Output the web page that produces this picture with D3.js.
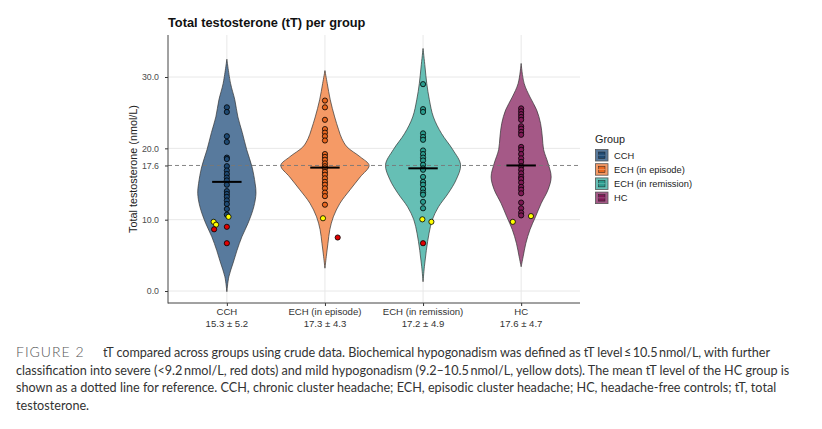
<!DOCTYPE html>
<html>
<head>
<meta charset="utf-8">
<script src="https://cdn.jsdelivr.net/npm/d3@7/dist/d3.min.js"></script>
<style>
  html, body { margin: 0; padding: 0; background: #fff; }
  svg { display: block; }
</style>
</head>
<body>
<svg id="chart" width="822" height="429"></svg>
<script>
// ---------------- DATA ----------------
const groups = ["CCH", "ECH (in episode)", "ECH (in remission)", "HC"];
const groupStats = ["15.3 ± 5.2", "17.3 ± 4.3", "17.2 ± 4.9", "17.6 ± 4.7"];
const groupMeans = [15.3, 17.3, 17.2, 17.6];
const hcMeanRef = 17.6;
const yTicks = [0, 10, 17.6, 20, 30];
const yTickLabels = ["0.0", "10.0", "17.6", "20.0", "30.0"];
const severeCut = 9.2;
const mildCut = 10.5;

// violin density profiles: [tT value, relative density (0-1)]
const densityCCH = [[32.5,0],[29.1,0.084],[26.8,0.18],[24.4,0.25],[22.2,0.35],[19.8,0.45],[17.4,0.57],[15.1,0.64],[13.7,0.66],[11.8,0.61],[9.5,0.48],[7.6,0.34],[5.7,0.23],[3.9,0.14],[2.0,0.045],[-0.1,0]];
const densityECHep = [[30.9,0],[29.1,0.052],[26.8,0.12],[24.4,0.22],[22.6,0.31],[21.4,0.38],[20.2,0.5],[18.8,0.8],[17.6,1.0],[16.0,0.8],[14.2,0.57],[12.3,0.34],[10.4,0.19],[8.6,0.11],[6.7,0.068],[4.8,0.03],[3.2,0]];
const densityECHrem = [[34.0,0],[31.4,0.045],[29.1,0.084],[26.8,0.143],[24.4,0.234],[22.1,0.416],[19.8,0.675],[17.7,0.85],[15.6,0.75],[13.7,0.57],[11.8,0.35],[10.0,0.21],[8.1,0.136],[5.7,0.075],[3.4,0.03],[1.3,0]];
const densityHC = [[31.9,0],[29.1,0.068],[27.2,0.2],[25.4,0.35],[23.5,0.44],[21.6,0.48],[19.8,0.51],[17.9,0.61],[16.0,0.68],[14.2,0.61],[12.3,0.455],[10.4,0.325],[8.6,0.2],[6.7,0.107],[4.8,0.045],[3.4,0]];

// individual tT values
const valuesCCH = [25.75,25.1,21.7,20.9,18.7,18.5,17.5,16.9,16.4,15.9,15.5,14.9,14.0,13.6,13.2,12.7,12.2,11.5,10.7,10.4,9.7,9.3,8.65,9.0,6.7];
const valuesECHep = [26.7,25.75,24.0,22.7,22.2,21.7,21.1,19.2,18.8,18.4,17.9,17.5,17.2,16.7,16.3,15.8,15.3,14.9,14.4,13.8,13.3,12.1,10.2,7.5];
const valuesECHrem = [29.0,25.5,25.1,22.1,21.6,21.2,19.7,19.2,18.7,18.3,17.7,17.2,17.0,16.0,15.3,14.9,14.3,13.8,13.5,12.5,11.6,10.05,9.7,6.7];
const valuesHC = [25.6,25.2,24.8,24.4,24.0,23.1,22.75,22.3,21.9,20.2,19.8,19.2,18.6,18.1,17.5,17.0,16.5,16.0,15.7,15.2,14.6,14.2,13.7,12.4,11.6,11.0,10.6,9.7,10.5];
// horizontal jitter (category units), same order as values
const jitterCCH = [0,0,0,0,0,0,0,0,0,0,0,0,0,0,0,0,0,0,0,0.017,-0.135,-0.11,-0.13,0,0];
const jitterECHep = [0,0,0,0,0,0,0,0,0,0,0,0,0,0,0,0,0,0,0,0,0,0,-0.02,0.13];
const jitterECHrem = [0,0,0,0,0,0,0,0,0,0,0,0,0,0,0,0,0,0,0,0,0,-0.007,0.085,0];
const jitterHC = [0,0,0,0,0,0,0,0,0,0,0,0,0,0,0,0,0,0,0,0,0,0,0,0,0,0,0,-0.085,0.10];

const violinFill = ["#587a9d", "#f59a66", "#66bfb5", "#a55987"];
const pointFill  = ["#1f4a73", "#e8661f", "#2b9c8e", "#7e1a55"];
const severeColor = "#e00000";
const mildColor = "#ffff00";

const densities = [densityCCH, densityECHep, densityECHrem, densityHC];
const values = [valuesCCH, valuesECHep, valuesECHrem, valuesHC];
const jitters = [jitterCCH, jitterECHep, jitterECHrem, jitterHC];

// ---------------- LAYOUT ----------------
const svg = d3.select("#chart");
const P = { left: 168, right: 580, top: 35, bottom: 303 };
const baseFont = "'Liberation Sans', Arial, Helvetica, sans-serif";

const x = d3.scalePoint().domain(groups).range([P.left, P.right]).padding(0.6);
const step = x.step();
const y = d3.scaleLinear().domain([-1.68, 35.89]).range([P.bottom, P.top]);
const w = d3.scaleLinear().domain([0, 1]).range([0, 0.45 * step]);

// grid
const grid = svg.append("g");
grid.selectAll("line.h").data([0, 10, 20, 30]).join("line")
  .attr("x1", P.left).attr("x2", P.right)
  .attr("y1", d => y(d)).attr("y2", d => y(d))
  .attr("stroke", "#e8e8e8").attr("stroke-width", 1);
grid.selectAll("line.v").data(groups).join("line")
  .attr("x1", d => x(d)).attr("x2", d => x(d))
  .attr("y1", P.top).attr("y2", P.bottom)
  .attr("stroke", "#e8e8e8").attr("stroke-width", 1);

// violins
const area = d3.area()
  .curve(d3.curveCatmullRom.alpha(0.5))
  .y(d => y(d[0]));
groups.forEach((g, i) => {
  const cx = x(g);
  area.x0(d => cx - w(d[1])).x1(d => cx + w(d[1]));
  svg.append("path")
    .datum(densities[i])
    .attr("d", area)
    .attr("fill", violinFill[i])
    .attr("stroke", "#333")
    .attr("stroke-width", 0.7);
});

// reference line (HC mean)
svg.append("line")
  .attr("x1", P.left).attr("x2", P.right)
  .attr("y1", y(hcMeanRef)).attr("y2", y(hcMeanRef))
  .attr("stroke", "#777").attr("stroke-width", 0.9)
  .attr("stroke-dasharray", "4,3");

// points
groups.forEach((g, i) => {
  const cx = x(g);
  const pts = values[i].map((v, j) => ({ v, dx: jitters[i][j] }));
  pts.sort((a, b) => (a.v <= mildCut) - (b.v <= mildCut));
  svg.append("g").selectAll("circle").data(pts).join("circle")
    .attr("cx", d => cx + d.dx * step)
    .attr("cy", d => y(d.v))
    .attr("r", 2.6)
    .attr("fill", d => d.v < severeCut ? severeColor : (d.v <= mildCut ? mildColor : pointFill[i]))
    .attr("stroke", "#000")
    .attr("stroke-width", 0.8);
});

// mean bars
svg.append("g").selectAll("line").data(groups).join("line")
  .attr("x1", (d) => x(d) - 0.15 * step)
  .attr("x2", (d) => x(d) + 0.15 * step)
  .attr("y1", (d, i) => y(groupMeans[i]))
  .attr("y2", (d, i) => y(groupMeans[i]))
  .attr("stroke", "#000").attr("stroke-width", 2);

// axes
const yAxis = d3.axisLeft(y).tickValues(yTicks).tickFormat((d, i) => yTickLabels[i]).tickSize(3).tickPadding(6);
const yg = svg.append("g").attr("transform", `translate(${P.left},0)`).call(yAxis);
yg.select(".domain").remove();
yg.selectAll("line").attr("stroke", "#333");
yg.selectAll("text").attr("font-family", baseFont).attr("font-size", 8.8).attr("fill", "#4d4d4d");

const xAxis = d3.axisBottom(x).tickSize(3).tickFormat("");
const xg = svg.append("g").attr("transform", `translate(0,${P.bottom})`).call(xAxis);
xg.select(".domain").remove();
xg.selectAll("line").attr("stroke", "#333");

svg.append("line").attr("x1", P.left).attr("x2", P.left).attr("y1", P.top).attr("y2", P.bottom + 0.5)
  .attr("stroke", "#444").attr("stroke-width", 1);
svg.append("line").attr("x1", P.left).attr("x2", P.right).attr("y1", P.bottom).attr("y2", P.bottom)
  .attr("stroke", "#444").attr("stroke-width", 1);

// x labels (2 lines)
const xl = svg.append("g").attr("font-family", baseFont).attr("font-size", 9.6).attr("fill", "#333").attr("text-anchor", "middle");
xl.selectAll("text.a").data(groups).join("text")
  .attr("x", d => x(d)).attr("y", 314.5).text(d => d);
xl.selectAll("text.b").data(groups).join("text")
  .attr("x", d => x(d)).attr("y", 327).text((d, i) => groupStats[i]);

// y title
svg.append("text")
  .attr("transform", `translate(137,${(P.top + P.bottom) / 2}) rotate(-90)`)
  .attr("text-anchor", "middle")
  .attr("font-family", baseFont).attr("font-size", 10.8).attr("fill", "#222")
  .text("Total testosterone (nmol/L)");

// title
svg.append("text")
  .attr("x", 168).attr("y", 27)
  .attr("font-family", baseFont).attr("font-size", 12.8).attr("font-weight", "bold").attr("fill", "#111")
  .text("Total testosterone (tT) per group");

// legend
const lg = svg.append("g").attr("font-family", baseFont);
lg.append("text").attr("x", 595).attr("y", 143).attr("font-size", 10.8).attr("fill", "#222").text("Group");
groups.forEach((g, i) => {
  const ky = 149.5 + i * 14.2;
  lg.append("rect").attr("x", 595.5).attr("y", ky).attr("width", 12.5).attr("height", 11.5)
    .attr("fill", violinFill[i]).attr("stroke", "#555").attr("stroke-width", 0.8);
  lg.append("rect").attr("x", 598.5).attr("y", ky + 2.5).attr("width", 6.5).attr("height", 6.5)
    .attr("fill", pointFill[i]).attr("stroke", "#222").attr("stroke-width", 0.5);
  lg.append("line").attr("x1", 598).attr("x2", 605.5).attr("y1", ky + 5.75).attr("y2", ky + 5.75)
    .attr("stroke", violinFill[i]).attr("stroke-width", 0.8);
  lg.append("text").attr("x", 614).attr("y", ky + 9).attr("font-size", 9.3).attr("fill", "#222").text(g);
});

// caption
const capFont = "Lato, 'Open Sans', sans-serif";
const capLines = [
  "tT compared across groups using crude data. Biochemical hypogonadism was defined as tT level\u2009≤\u200910.5\u2009nmol/L, with further",
  "classification into severe (<9.2\u2009nmol/L, red dots) and mild hypogonadism (9.2–10.5\u2009nmol/L, yellow dots). The mean tT level of the HC group is",
  "shown as a dotted line for reference. CCH, chronic cluster headache; ECH, episodic cluster headache; HC, headache-free controls; tT, total",
  "testosterone."
];
const cap = svg.append("g").attr("font-family", capFont).attr("fill", "#333");
const capBase = [357, 374.5, 392, 409.5];
cap.append("text").attr("x", 16).attr("y", capBase[0])
  .attr("font-size", 14).attr("font-weight", 300).attr("fill", "#555")
  .attr("letter-spacing", 1)
  .text("FIGURE 2");
const capTexts = capLines.map((t, i) => cap.append("text")
  .attr("x", i === 0 ? 103 : 16).attr("y", capBase[i])
  .attr("font-size", 12).text(t));
// fit caption size to the reference width of line 2
const l2 = capTexts[1].node().getComputedTextLength();
const fs = 12 * (790 - 16) / l2;
capTexts.forEach(t => t.attr("font-size", fs));
capTexts[0].attr("textLength", 770 - 103).attr("lengthAdjust", "spacing");
</script>
</body>
</html>
